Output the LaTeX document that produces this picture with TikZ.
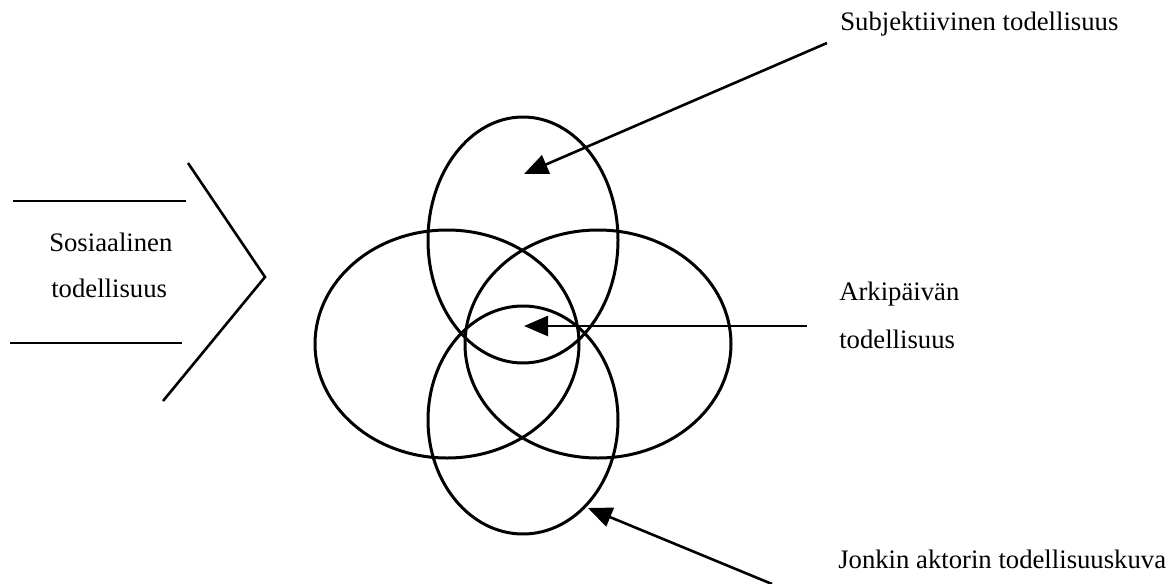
\documentclass[tikz,border=0pt]{standalone}
\usepackage{fontspec}
\setmainfont{Liberation Serif}
\usetikzlibrary{arrows.meta}

\tikzset{
  txt/.style={inner sep=0pt, anchor=base west, font=\fontsize{26.7}{32}\selectfont},
  ring/.style={line width=3pt},
  pointer/.style={line width=2.6pt, -{Triangle[length=24pt, width=20pt]}}
}

\begin{document}
\begin{tikzpicture}[x=1pt, y=-1pt, line width=2.6pt]

\useasboundingbox (0, 0) rectangle (1171, 584);

% draw ellipses
\draw[ring] (523, 240) ellipse [x radius = 95, y radius = 123];
\draw[ring] (447, 344) ellipse [x radius = 132, y radius = 114];
\draw[ring] (598, 344) ellipse [x radius = 133, y radius = 114];
\draw[ring] (523, 420) ellipse [x radius = 95, y radius = 114];

% draw left bracket and chevron
\draw (13, 201) -- (186, 201);
\draw (10, 343) -- (182, 343);
\draw (188, 163) -- (265, 277) -- (163, 401);

% draw labels
\node[txt] (sos1) at (48, 251) {Sosiaalinen};
\node[txt] (sos2) at (50, 297) {todellisuus};
\node[txt] (subj) at (839, 30) {Subjektiivinen todellisuus};
\node[txt] (arki1) at (838, 300) {Arkipäivän};
\node[txt] (arki2) at (838, 348) {todellisuus};
\node[txt] (jonk) at (837, 568) {Jonkin aktorin todellisuuskuva};

% draw arrows
\coordinate (subjfrom) at (827, 43);
\coordinate (subjto) at (524, 174);
\coordinate (arkifrom) at (807, 326);
\coordinate (arkito) at (524, 326);
\coordinate (jonkfrom) at (772, 584);
\coordinate (jonkto) at (588, 508);

\draw[pointer] (subjfrom) -- (subjto);
\draw[pointer] (arkifrom) -- (arkito);
\draw[pointer] (jonkfrom) -- (jonkto);

\end{tikzpicture}
\end{document}
